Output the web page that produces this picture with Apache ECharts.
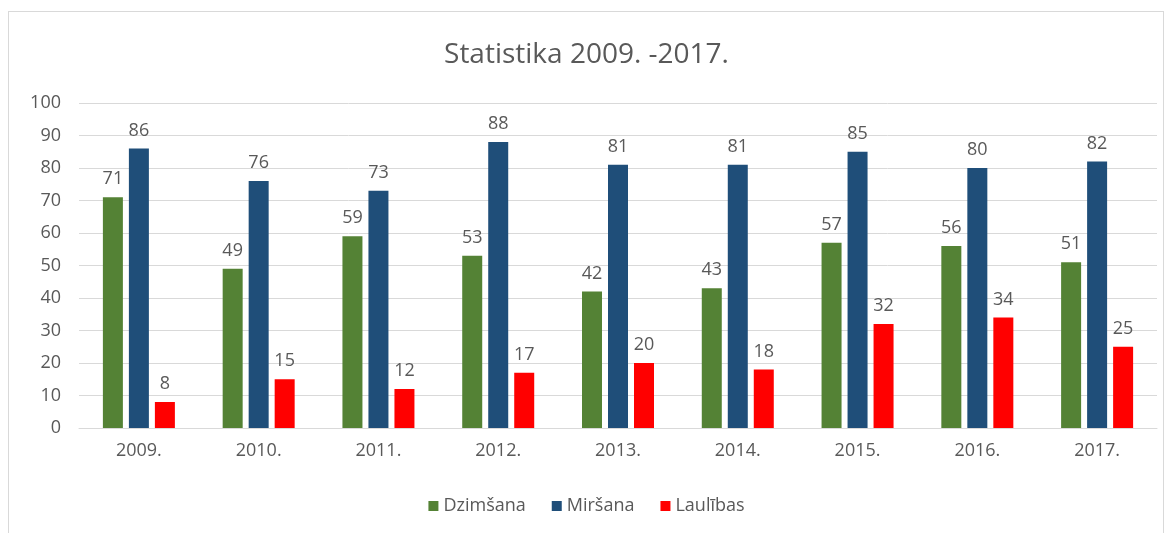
<!DOCTYPE html>
<html>
<head>
<meta charset="utf-8">
<script src="https://cdn.jsdelivr.net/npm/echarts@6/dist/echarts.min.js"></script>
<style>
  html, body { margin: 0; padding: 0; background: #fff; }
  .frame {
    position: absolute; left: 8px; top: 11px; width: 1156px; height: 530px;
    border: 1px solid #d9d9d9; box-sizing: border-box;
  }
  #chart { position: absolute; left: 0; top: 0; width: 1173px; height: 533px; }
</style>
</head>
<body>
<div class="frame"></div>
<div id="chart"></div>
<script>
const years = ['2009.', '2010.', '2011.', '2012.', '2013.', '2014.', '2015.', '2016.', '2017.'];
const dzimsana = [71, 49, 59, 53, 42, 43, 57, 56, 51];
const mirsana = [86, 76, 73, 88, 81, 81, 85, 80, 82];
const laulibas = [8, 15, 12, 17, 20, 18, 32, 34, 25];

const font = '"Open Sans", "DejaVu Sans", sans-serif';
const textColor = '#595959';

const makeSeries = (name, data, color) => ({
  name: name,
  type: 'bar',
  data: data,
  barWidth: 20,
  barGap: '30%',
  itemStyle: { color: color },
  label: {
    show: true,
    position: 'top',
    distance: 9,
    color: textColor,
    fontSize: 18,
    fontFamily: font,
  },
});

const myChart = echarts.init(document.getElementById('chart'));
myChart.setOption({
  animation: false,
  title: {
    text: 'Statistika 2009. -2017.',
    left: 'center',
    top: 36,
    textStyle: { color: textColor, fontSize: 28, fontWeight: 'normal', fontFamily: font },
  },
  legend: {
    bottom: 13,
    left: 'center',
    itemWidth: 10,
    itemHeight: 10,
    itemGap: 26,
    icon: 'rect',
    textStyle: { color: textColor, fontSize: 18, fontFamily: font },
    data: ['Dzimšana', 'Miršana', 'Laulības'],
  },
  grid: {
    left: 79,
    right: 16,
    top: 103,
    bottom: 105,
    containLabel: false,
  },
  xAxis: {
    type: 'category',
    data: years,
    axisLine: { lineStyle: { color: '#d9d9d9' } },
    axisTick: { show: false },
    axisLabel: { color: textColor, fontSize: 18, fontFamily: font, margin: 14 },
  },
  yAxis: {
    type: 'value',
    min: 0,
    max: 100,
    interval: 10,
    axisLine: { show: false },
    axisTick: { show: false },
    splitLine: { lineStyle: { color: '#d9d9d9' } },
    axisLabel: { color: textColor, fontSize: 18, fontFamily: font, margin: 18 },
  },
  series: [
    makeSeries('Dzimšana', dzimsana, '#548235'),
    makeSeries('Miršana', mirsana, '#1f4e79'),
    makeSeries('Laulības', laulibas, '#ff0000'),
  ],
});
</script>
</body>
</html>
